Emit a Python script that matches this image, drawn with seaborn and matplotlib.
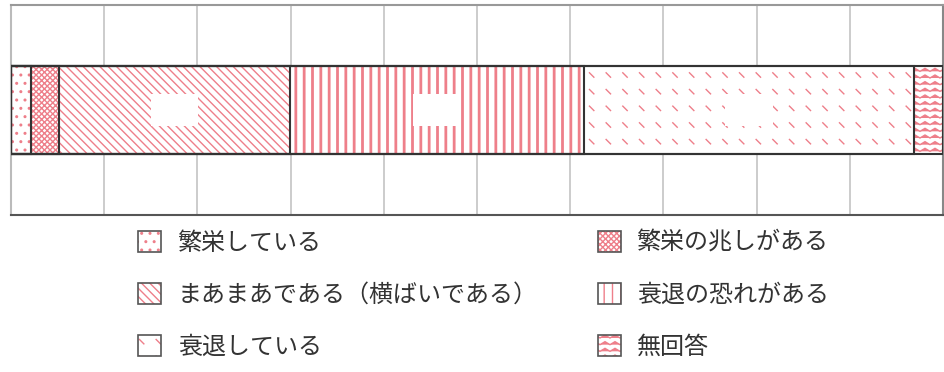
import warnings
import numpy as np
import pandas as pd
import matplotlib
matplotlib.use('Agg')
import matplotlib.pyplot as plt
import matplotlib.hatch as mhatch
from matplotlib.path import Path
from matplotlib.patches import Patch
import seaborn as sns

warnings.filterwarnings('ignore')

categories = ['繁栄している', '繁栄の兆しがある', 'まあまあである（横ばいである）',
              '衰退の恐れがある', '衰退している', '無回答']
values = [2.1, 3.1, 24.7, 31.6, 35.4, 3.1]

hatches = ['..', 'xxxxxx', '\\\\\\\\', '||', 'd', 'z']
pink = '#ee7f8a'
dark = '#333333'


# two extra hatch patterns: short diagonal dashes and zigzag waves
class DashHatch(mhatch.HatchPatternBase):
    def __init__(self, hatch, density):
        self.n = hatch.count('d') * density
        self.num_vertices = self.n * self.n * 2

    def set_vertices_and_codes(self, vertices, codes):
        g = (np.arange(self.n) + 0.5) / self.n
        xx, yy = np.meshgrid(g, g)
        xx = xx.ravel()
        yy = yy.ravel()
        d = 0.022
        vertices[0::2, 0] = xx - d
        vertices[0::2, 1] = yy + d
        vertices[1::2, 0] = xx + d
        vertices[1::2, 1] = yy - d
        codes[0::2] = Path.MOVETO
        codes[1::2] = Path.LINETO


class WaveHatch(mhatch.HatchPatternBase):
    def __init__(self, hatch, density):
        c = hatch.count('z')
        self.rows = int(c * density * 2.5)
        self.pts = 21
        self.num_vertices = self.rows * self.pts if c else 0

    def set_vertices_and_codes(self, vertices, codes):
        x = np.linspace(0, 1, self.pts)
        wave = np.where(np.arange(self.pts) % 2 == 0, 0.0, 0.03)
        for r in range(self.rows):
            y0 = (r + 0.3) / self.rows
            s = slice(r * self.pts, (r + 1) * self.pts)
            vertices[s, 0] = x
            vertices[s, 1] = y0 + wave
            codes[s] = Path.LINETO
            codes[r * self.pts] = Path.MOVETO


mhatch._hatch_types.extend([DashHatch, WaveHatch])

sns.set_theme(style='white')
plt.rcParams['font.family'] = ['Noto Sans CJK JP', 'DejaVu Sans']
plt.rcParams['hatch.linewidth'] = 1.0

df = pd.DataFrame({'category': categories, 'value': values})
df['cum'] = df['value'].cumsum()
df['left'] = df['cum'] - df['value']
df['row'] = ''

fig, ax = plt.subplots(figsize=(9.45, 3.72), dpi=100)
fig.subplots_adjust(left=11 / 945, right=943 / 945, top=1 - 5 / 372, bottom=1 - 215 / 372)

# hatched fills, longest first so that each shorter bar covers the one before
for i in reversed(range(len(df))):
    sns.barplot(data=df.iloc[[i]], x='cum', y='row', orient='h', color='white',
                saturation=1, width=0.42, errorbar=None, ax=ax,
                edgecolor=pink, linewidth=0, hatch=hatches[i], zorder=2)
    if hatches[i] == '||':
        p = ax.patches[-1]
        if hasattr(p, 'set_hatch_linewidth'):
            p.set_hatch_linewidth(2.0)

# dark outlines
for i in reversed(range(len(df))):
    sns.barplot(data=df.iloc[[i]], x='cum', y='row', orient='h', fill=False,
                color=dark, saturation=1, width=0.42, errorbar=None, ax=ax,
                linewidth=1.5, zorder=3)

# label boxes
for _, r in df.iterrows():
    if r['value'] > 10:
        ax.text(r['left'] + r['value'] / 2, 0, '{:.1f}'.format(r['value']),
                ha='center', va='center', color='white', fontsize=12, zorder=4,
                bbox=dict(boxstyle='square,pad=0.45', fc='white', ec='none'))

ax.set_xlim(0, 100)
ax.set_xticks(np.arange(0, 101, 10))
ax.xaxis.grid(True, color='#c4c4c4', linewidth=1.2)
ax.yaxis.grid(False)
ax.set_axisbelow(True)
ax.tick_params(length=0, labelbottom=False, labelleft=False)
ax.set_xlabel('')
ax.set_ylabel('')
for side, col in [('top', '#999999'), ('bottom', '#555555'), ('left', '#bbbbbb'), ('right', '#888888')]:
    ax.spines[side].set_visible(True)
    ax.spines[side].set_color(col)
    ax.spines[side].set_linewidth(1.5)

handles = [(Patch(facecolor='white', edgecolor=pink, hatch=h, linewidth=0),
            Patch(fill=False, edgecolor='#555555', linewidth=1.2)) for h in hatches]
order = [0, 2, 4, 1, 3, 5]
fig.legend([handles[k] for k in order], [categories[k] for k in order],
           loc='upper left', bbox_to_anchor=(138 / 945, 1 - 230 / 372), ncol=2,
           frameon=False, fontsize=17.3, labelcolor=dark, handlelength=0.95,
           handleheight=0.95, handletextpad=0.7, columnspacing=2.5,
           labelspacing=1.08, borderpad=0, borderaxespad=0)

fig.savefig('out.png', dpi=100)
